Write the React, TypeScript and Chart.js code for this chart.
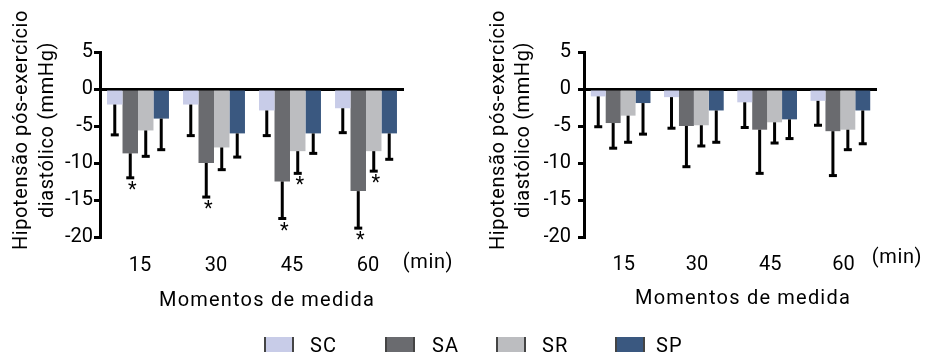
import React, { useEffect, useRef } from "react";
import { Chart, registerables } from "chart.js";

Chart.register(...registerables);

const FONT = "Roboto, 'DejaVu Sans', sans-serif";

const categories = ["15", "30", "45", "60"];
const seriesNames = ["SC", "SA", "SR", "SP"];
const seriesColors = ["#c8cce8", "#6a6b6f", "#bcbdc0", "#3a5880"];
const yTitleLines = ["Hipotensão pós-exercício", "diastólico (mmHg)"];
const xTitle = "Momentos de medida";
const unitLabel = "(min)";

// Left panel: means and (one-sided) standard deviations
const leftSC = [-2.1, -2.1, -2.9, -2.6];
const leftSA = [-8.7, -10.0, -12.5, -13.8];
const leftSR = [-5.6, -7.9, -8.4, -8.4];
const leftSP = [-4.0, -6.0, -6.0, -6.0];
const leftSCsd = [4.1, 4.2, 3.4, 3.3];
const leftSAsd = [3.3, 4.6, 5.0, 5.0];
const leftSRsd = [3.5, 3.0, 3.0, 2.7];
const leftSPsd = [4.2, 3.2, 2.7, 3.5];
const leftSAstar = [true, true, true, true];
const leftSRstar = [false, false, true, true];

// Right panel
const rightSC = [-1.0, -1.1, -1.8, -1.6];
const rightSA = [-4.6, -5.0, -5.5, -5.7];
const rightSR = [-3.6, -4.9, -4.5, -5.5];
const rightSP = [-1.9, -2.9, -4.1, -2.9];
const rightSCsd = [4.1, 4.2, 3.4, 3.3];
const rightSAsd = [3.4, 5.5, 5.9, 6.0];
const rightSRsd = [3.6, 2.8, 2.8, 2.7];
const rightSPsd = [4.2, 4.3, 2.6, 4.5];
const noStar = [false, false, false, false];

const yMin = -20;
const yMax = 5;
const yStep = 5;

const errorBarPlugin = {
  id: "errorBars",
  afterDatasetsDraw(chart: any) {
    const ctx = chart.ctx;
    const ys = chart.scales.y;
    chart.data.datasets.forEach((ds: any, i: number) => {
      const meta = chart.getDatasetMeta(i);
      meta.data.forEach((bar: any, j: number) => {
        const v = ds.data[j];
        const sd = ds.sd[j];
        const y0 = ys.getPixelForValue(v);
        const y1 = ys.getPixelForValue(v - sd);
        ctx.save();
        ctx.strokeStyle = "#000";
        ctx.lineWidth = 3;
        ctx.beginPath();
        ctx.moveTo(bar.x, y0);
        ctx.lineTo(bar.x, y1);
        ctx.stroke();
        ctx.beginPath();
        ctx.moveTo(bar.x - 4, y1);
        ctx.lineTo(bar.x + 4, y1);
        ctx.stroke();
        if (ds.star && ds.star[j]) {
          ctx.fillStyle = "#000";
          ctx.font = `20px ${FONT}`;
          ctx.textAlign = "center";
          ctx.textBaseline = "alphabetic";
          ctx.fillText("*", bar.x + 2, y1 + 18);
        }
        ctx.restore();
      });
    });
  },
};

const panelTextPlugin = {
  id: "panelText",
  afterDraw(chart: any, _args: any, opts: any) {
    const ctx = chart.ctx;
    ctx.save();
    ctx.fillStyle = "#000";
    ctx.font = `20px ${FONT}`;
    (ctx as any).letterSpacing = "0.6px";
    opts.yTitleX.forEach((x: number, k: number) => {
      ctx.save();
      ctx.translate(x, opts.yTitleY);
      ctx.rotate(-Math.PI / 2);
      ctx.textAlign = "center";
      ctx.textBaseline = "alphabetic";
      ctx.fillText(yTitleLines[k], 0, 0);
      ctx.restore();
    });
    (ctx as any).letterSpacing = "1.2px";
    ctx.textAlign = "center";
    ctx.textBaseline = "alphabetic";
    ctx.fillText(xTitle, opts.xTitleX, opts.xTitleY);
    (ctx as any).letterSpacing = "0.6px";
    ctx.fillText(unitLabel, opts.unitX, opts.unitY);
    ctx.restore();
  },
};

function makeConfig(
  sc: number[], sa: number[], sr: number[], sp: number[],
  sds: number[][], stars: boolean[][],
  padLeft: number, padRight: number, tickPad: number, labelOffset: number,
  xTickPad: number,
  text: any
) {
  const values = [sc, sa, sr, sp];
  return {
    type: "bar",
    data: {
      labels: categories,
      datasets: seriesNames.map((name, i) => ({
        label: name,
        data: values[i],
        sd: sds[i],
        star: stars[i],
        backgroundColor: seriesColors[i],
        borderWidth: 0,
        barPercentage: 1,
        categoryPercentage: 0.815,
      })),
    },
    options: {
      responsive: false,
      maintainAspectRatio: false,
      animation: false,
      events: [],
      layout: { padding: { left: padLeft, right: padRight, top: 52, bottom: 65 } },
      plugins: {
        legend: { display: false },
        tooltip: { enabled: false },
        panelText: text,
      },
      scales: {
        x: {
          grid: { display: false, drawTicks: false },
          border: { display: false },
          ticks: {
            color: "#000",
            font: { family: FONT, size: 20 },
            padding: xTickPad,
            labelOffset: labelOffset,
            maxRotation: 0,
          },
          afterFit: (s: any) => {
            s.height = 50;
          },
        },
        y: {
          min: yMin,
          max: yMax,
          z: 1,
          ticks: {
            stepSize: yStep,
            color: "#000",
            font: { family: FONT, size: 20 },
            padding: tickPad,
          },
          border: { display: true, color: "#000", width: 3 },
          grid: {
            color: (c: any) => (c.tick && c.tick.value === 0 ? "#000" : "rgba(0,0,0,0)"),
            lineWidth: 3,
            tickColor: "#000",
            tickLength: 6,
            drawTicks: true,
          },
          afterFit: (s: any) => {
            s.width = 40;
          },
        },
      },
    },
    plugins: [errorBarPlugin, panelTextPlugin],
  };
}

function Panel(props: { cfg: any; left: number }) {
  const ref = useRef<HTMLCanvasElement | null>(null);
  useEffect(() => {
    if (!ref.current) return;
    const chart = new Chart(ref.current, props.cfg);
    return () => chart.destroy();
  }, []);
  return (
    <canvas
      ref={ref}
      width={463}
      height={352}
      style={{ position: "absolute", left: props.left, top: 0, width: 463, height: 352 }}
    />
  );
}

const legendBoxLeft = [264, 385, 496, 615];
const legendTextLeft = [310, 432, 542, 656];

export default function App() {
  const leftCfg = makeConfig(
    leftSC, leftSA, leftSR, leftSP,
    [leftSCsd, leftSAsd, leftSRsd, leftSPsd],
    [noStar, leftSAstar, leftSRstar, noStar],
    60, 59, 1, 2, 17,
    { yTitleX: [27, 53], yTitleY: 130, xTitleX: 267, xTitleY: 306, unitX: 428, unitY: 268 }
  );
  const rightCfg = makeConfig(
    rightSC, rightSA, rightSR, rightSP,
    [rightSCsd, rightSAsd, rightSRsd, rightSPsd],
    [noStar, noStar, noStar, noStar],
    81, 49, 7, 3, 16,
    { yTitleX: [41, 66], yTitleY: 130, xTitleX: 280, xTitleY: 304, unitX: 434, unitY: 263 }
  );
  return (
    <div
      style={{
        position: "absolute",
        left: 0,
        top: 0,
        width: 926,
        height: 352,
        overflow: "hidden",
        background: "#fff",
      }}
    >
      <Panel cfg={leftCfg} left={0} />
      <Panel cfg={rightCfg} left={463} />
      {seriesNames.map((name, i) => (
        <React.Fragment key={name}>
          <div
            style={{
              position: "absolute",
              left: legendBoxLeft[i],
              top: 337,
              width: 26,
              height: 16,
              background: seriesColors[i],
              borderLeft: "2px solid #444",
              borderRight: "2px solid #444",
            }}
          />
          <div
            style={{
              position: "absolute",
              left: legendTextLeft[i],
              top: 333,
              fontFamily: FONT,
              fontSize: 20,
              lineHeight: "24px",
              letterSpacing: "1px",
              color: "#000",
            }}
          >
            {name}
          </div>
        </React.Fragment>
      ))}
    </div>
  );
}
